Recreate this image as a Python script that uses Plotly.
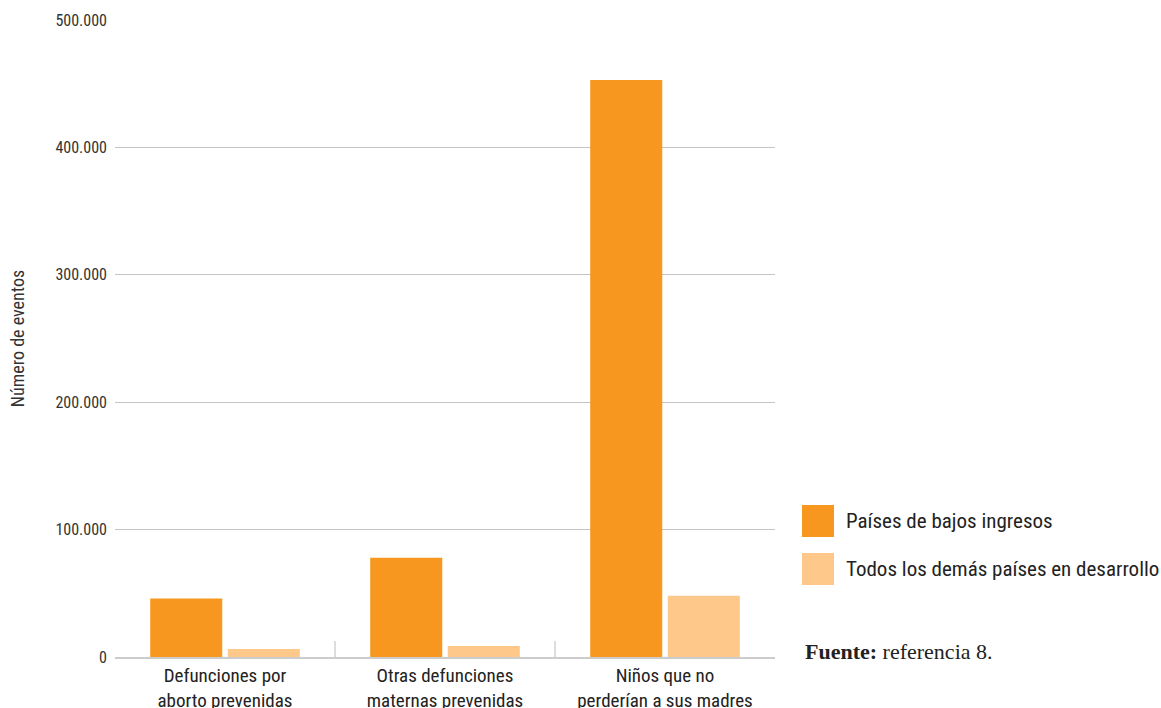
import plotly.graph_objects as go

categories = ["Defunciones por<br>aborto prevenidas",
              "Otras defunciones<br>maternas prevenidas",
              "Niños que no<br>perderían a sus madres"]
bajos_ingresos = [46000, 78000, 453000]
demas_paises = [6300, 8600, 48000]
series_names = ["Países de bajos ingresos", "Todos los demás países en desarrollo"]
colors = ["#F7971F", "#FDC88A"]
y_ticks = [0, 100000, 200000, 300000, 400000, 500000]
y_tick_labels = ["0", "100.000", "200.000", "300.000", "400.000", "500.000"]

FONT = "Roboto Condensed, Arial Narrow, sans-serif"

fig = go.Figure()
for name, vals, col in zip(series_names, [bajos_ingresos, demas_paises], colors):
    fig.add_trace(go.Bar(x=categories, y=vals, name=name, marker_color=col,
                         marker_line_width=0, showlegend=False, hoverinfo="skip"))

fig.update_layout(
    width=1161, height=708,
    margin=dict(l=115, r=386, t=20, b=51, autoexpand=False),
    paper_bgcolor="white", plot_bgcolor="white",
    barmode="group", bargap=0.295, bargroupgap=0.071,
    font=dict(family=FONT, color="#222222", size=16),
)
fig.update_yaxes(range=[0, 500000], tickvals=y_ticks, ticktext=y_tick_labels,
                 showgrid=True, gridcolor="#C4C4C4", gridwidth=1, automargin=False,
                 zeroline=False, showline=False, ticks="", ticklabelstandoff=7,
                 tickfont=dict(size=16, color="#333333"),
                 title=dict(text="Número de eventos", standoff=26,
                            font=dict(size=18, color="#333333")))
fig.update_xaxes(showline=True, linecolor="#CCCCCC", linewidth=2, automargin=False,
                 ticks="", showgrid=False, tickfont=dict(size=19, color="#222222"),
                 ticklabelstandoff=0, range=[-0.5, 2.5])

# category separators
for xpos in [0.5, 1.5]:
    fig.add_shape(type="line", xref="x", yref="paper", x0=xpos, x1=xpos,
                  y0=0, y1=0.025, line=dict(color="#BBBBBB", width=1))

# custom legend
leg_y = [521, 569]
for name, col, yc in zip(series_names, colors, leg_y):
    fig.add_shape(type="rect", xref="paper", yref="paper",
                  x0=(802 - 115) / 660, x1=(834 - 115) / 660,
                  y0=(657 - (yc + 16)) / 637, y1=(657 - (yc - 16)) / 637,
                  fillcolor=col, line_width=0)
    fig.add_annotation(xref="paper", yref="paper", x=(846 - 115) / 660,
                       y=(657 - yc) / 637, text=name, showarrow=False,
                       xanchor="left", yanchor="middle", xshift=-2,
                       font=dict(size=21, color="#222222", family=FONT))

fig.add_annotation(xref="paper", yref="paper", x=(805 - 115) / 660,
                   y=(657 - 651) / 637, text="<b>Fuente:</b> referencia 8.",
                   showarrow=False, xanchor="left", yanchor="middle", xshift=-2,
                   font=dict(size=22, color="#222222",
                             family="Liberation Serif, DejaVu Serif, serif"))

fig.write_html("out.html", config={"displayModeBar": False},
               post_script="document.body.style.margin='0';document.body.style.padding='0';")
